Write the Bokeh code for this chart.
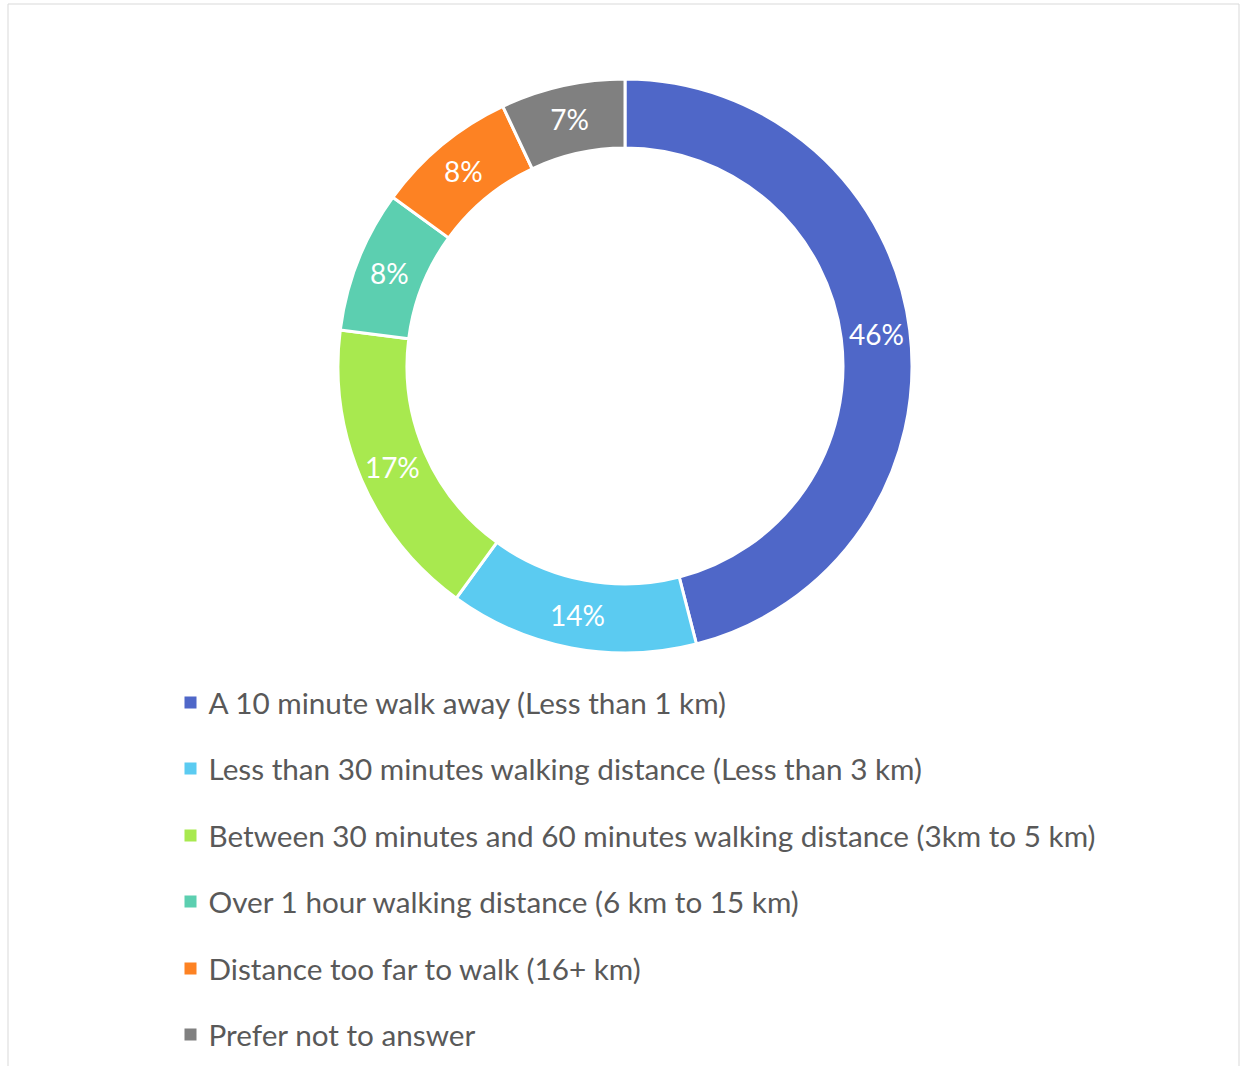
import numpy as np
from bokeh.plotting import figure
from bokeh.models import Range1d, ColumnDataSource
from bokeh.core.properties import value
from bokeh.embed import file_html
from bokeh.resources import INLINE

categories = [
    "A 10 minute walk away (Less than 1 km)",
    "Less than 30 minutes walking distance (Less than 3 km)",
    "Between 30 minutes and 60 minutes walking distance (3km to 5 km)",
    "Over 1 hour walking distance (6 km to 15 km)",
    "Distance too far to walk (16+ km)",
    "Prefer not to answer",
]
shares = [46, 14, 17, 8, 8, 7]
colors = ["#4F67C8", "#5BCBF1", "#A8E94F", "#5CCFB0", "#FD8223", "#808080"]

W, H = 1240, 1066
FONT = "Lato"

p = figure(width=W, height=H, output_backend="svg", toolbar_location=None,
           x_range=Range1d(0, W), y_range=Range1d(0, H), min_border=0)
p.axis.visible = False
p.grid.visible = False
p.outline_line_color = None
p.background_fill_color = "white"
p.border_fill_color = "white"

# outer frame
p.quad(left=7.5, right=W - 1.5, top=H - 3.5, bottom=-10,
       fill_color=None, line_color="#D9D9D9", line_width=1)

cx, cy = 624.5, H - 365.5
r_out, r_in = 287, 218

vals = np.array(shares, dtype=float)
frac = vals / vals.sum()
cum = np.concatenate([[0], np.cumsum(frac)])
start = np.pi / 2 - 2 * np.pi * cum[:-1]
end = np.pi / 2 - 2 * np.pi * cum[1:]
mid = (start + end) / 2
r_lab = (r_out + r_in) / 2 + 1

src = ColumnDataSource(dict(start=start, end=end, color=colors,
                            lx=cx + r_lab * np.cos(mid), ly=cy + r_lab * np.sin(mid),
                            lab=[f"{s}%" for s in shares]))
p.annular_wedge(x=cx, y=cy, inner_radius=r_in, outer_radius=r_out,
                start_angle="start", end_angle="end", direction="clock",
                fill_color="color", line_color="white", line_width=3, source=src)
p.text(x="lx", y="ly", text="lab", source=src, text_color="white",
       text_font=value(FONT), text_font_size="28px",
       text_align="center", text_baseline="middle")

# legend
row_y = [702, 768, 835, 901, 968, 1034]
leg = ColumnDataSource(dict(x=[190] * 6, tx=[208] * 6,
                            y=[H - v for v in row_y],
                            color=colors, label=categories))
p.scatter(x="x", y="y", marker="square", size=12, fill_color="color",
          line_color=None, source=leg)
p.text(x="tx", y="y", text="label", source=leg, text_color="#595959",
       text_font=value(FONT), text_font_size="29.7px",
       text_align="left", text_baseline="middle")

open("out.html", "w").write(file_html(p, INLINE))
